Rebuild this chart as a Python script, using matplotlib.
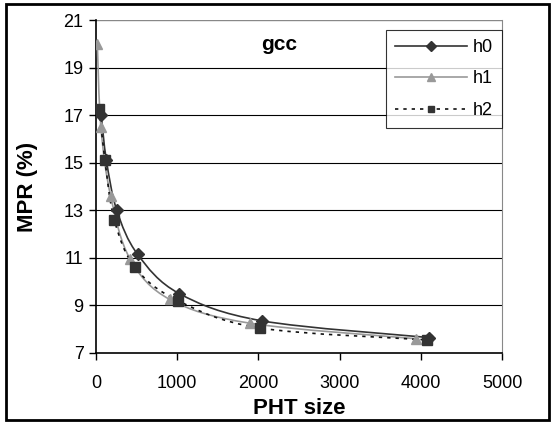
import matplotlib
matplotlib.use('Agg')
import matplotlib.pyplot as plt
from matplotlib.path import Path
from matplotlib.patches import PathPatch, Rectangle
from matplotlib.lines import Line2D

plt.rcParams['font.family'] = ['Liberation Sans', 'DejaVu Sans']

# data
h0_x = [64, 128, 256, 512, 1024, 2048, 4096]
h0_y = [17.0, 15.1, 13.0, 11.15, 9.5, 8.35, 7.65]
h1_x = [16, 60, 180, 420, 910, 1900, 3940]
h1_y = [20.0, 16.5, 13.6, 10.95, 9.25, 8.25, 7.6]
h2_x = [40, 110, 225, 480, 1010, 2020, 4080]
h2_y = [17.25, 15.1, 12.6, 10.6, 9.2, 8.05, 7.55]

x_ticks = [0, 1000, 2000, 3000, 4000, 5000]
y_ticks = [7, 9, 11, 13, 15, 17, 19, 21]


def smooth_path(xs, ys):
    # excel-like smoothed line: bezier segments through the data points
    pts = list(zip(xs, ys))
    verts = [pts[0]]
    codes = [Path.MOVETO]
    n = len(pts)
    for i in range(n - 1):
        p0 = pts[i - 1] if i > 0 else pts[i]
        p1 = pts[i]
        p2 = pts[i + 1]
        p3 = pts[i + 2] if i + 2 < n else pts[i + 1]
        c1 = (p1[0] + (p2[0] - p0[0]) / 6, p1[1] + (p2[1] - p0[1]) / 6)
        c2 = (p2[0] - (p3[0] - p1[0]) / 6, p2[1] - (p3[1] - p1[1]) / 6)
        verts += [c1, c2, p2]
        codes += [Path.CURVE4] * 3
    return Path(verts, codes)


fig = plt.figure(figsize=(5.54, 4.23), dpi=100)
ax = fig.add_axes([0.1733, 0.1655, 0.7329, 0.7872])

series = [
    (h0_x, h0_y, '#333333', '-', 'D', 6.5, '#333333'),
    (h1_x, h1_y, '#999999', '-', '^', 7.5, '#999999'),
    (h2_x, h2_y, '#111111', (0, (2, 3)), 's', 6.5, '#333333'),
]
handles = []
for xs, ys, col, ls, mk, ms, mc in series:
    ax.add_patch(PathPatch(smooth_path(xs, ys), facecolor='none', edgecolor=col,
                           linestyle=ls, linewidth=1.2, zorder=3))
    ax.plot(xs, ys, linestyle='none', marker=mk, markersize=ms,
            color=mc, zorder=4)
    handles.append(Line2D([], [], color=col, linestyle=ls, linewidth=1.2,
                          marker=mk, markersize=ms - 1.5, markerfacecolor=mc,
                          markeredgecolor=mc))

ax.set_xlim(0, 5000)
ax.set_ylim(7, 21)
ax.set_xticks(x_ticks)
ax.set_yticks(y_ticks)
for y in y_ticks[1:-1]:
    ax.axhline(y, color='black', linewidth=0.8, zorder=1)
ax.axhline(21, color='#888888', linewidth=1, zorder=1)
ax.tick_params(axis='both', labelsize=13, direction='out', length=5,
               width=1, color='black')
ax.tick_params(axis='x', pad=11)
ax.tick_params(axis='y', pad=4)
ax.spines['top'].set_visible(False)
ax.spines['right'].set_color('#888888')
ax.spines['left'].set_linewidth(1.2)
ax.spines['bottom'].set_linewidth(1.2)

ax.set_xlabel('PHT size', fontsize=16, fontweight='bold', labelpad=4)
ax.set_ylabel('MPR (%)', fontsize=16, fontweight='bold', labelpad=18)
ax.text(0.45, 0.925, 'gcc', transform=ax.transAxes, fontsize=15,
        fontweight='bold', ha='center', va='center')

leg = ax.legend(handles, ['h0', 'h1', 'h2'], loc='upper right',
                bbox_to_anchor=(1.0, 0.97), borderaxespad=0, fontsize=13,
                frameon=True, fancybox=False, edgecolor='black',
                handlelength=4.0, handletextpad=0.3, labelspacing=0.8,
                borderpad=0.5)
leg.get_frame().set_linewidth(0.8)

# outer frame around the whole chart
fig.patches.append(Rectangle((6 / 554, 3 / 423), 543 / 554, 416 / 423,
                             transform=fig.transFigure, fill=False,
                             edgecolor='black', linewidth=2))

plt.savefig('out.png', dpi=100)
